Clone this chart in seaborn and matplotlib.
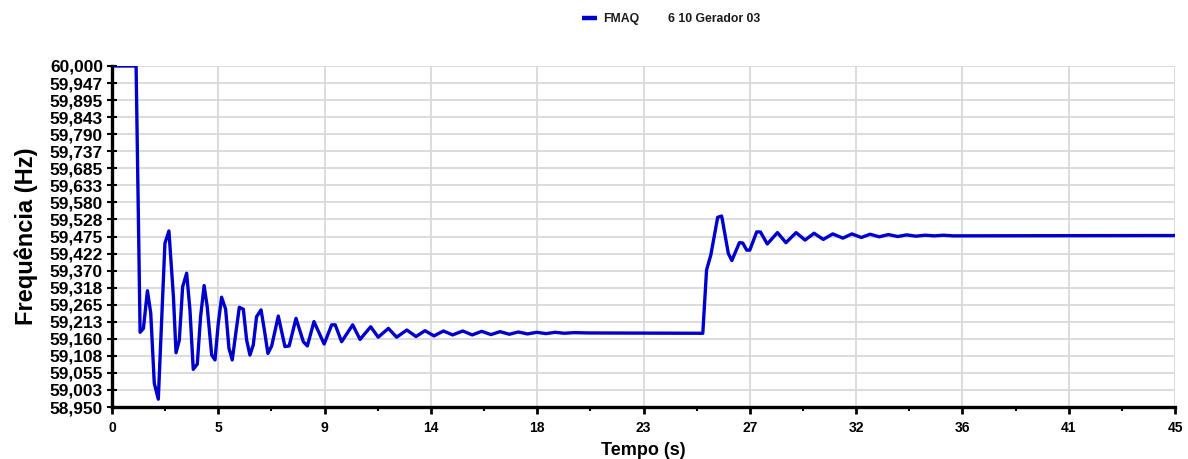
import matplotlib
matplotlib.use("Agg")
import matplotlib.pyplot as plt
import numpy as np
import pandas as pd
import seaborn as sns
from matplotlib.ticker import MultipleLocator

# Frequency response of machine FMAQ (bus 6, unit 10, Gerador 03)
tempo = [
    0.00, 1.02, 1.19, 1.33, 1.50, 1.64, 1.79, 1.96, 2.24, 2.41, 2.60, 2.71,
    2.85, 2.99, 3.16, 3.30, 3.44, 3.61, 3.75, 3.90, 4.03, 4.22, 4.36, 4.50,
    4.64, 4.81, 4.95, 5.09, 5.24, 5.39, 5.56, 5.70, 5.84, 5.98, 6.12, 6.31,
    6.45, 6.60, 6.76, 7.04, 7.32, 7.50, 7.79, 8.10, 8.27, 8.55, 8.98, 9.30,
    9.45, 9.72, 10.19, 10.50, 10.95, 11.27, 11.70, 12.05, 12.48, 12.87,
    13.25, 13.63, 14.03, 14.42, 14.85, 15.25, 15.65, 16.04, 16.43, 16.82,
    17.20, 17.59, 17.98, 18.37, 18.76, 19.15, 19.55, 20.20, 25.01, 25.17,
    25.35, 25.64, 25.81, 26.09, 26.24, 26.56, 26.70, 26.87, 27.00, 27.29,
    27.45, 27.74, 28.17, 28.53, 28.96, 29.34, 29.72, 30.11, 30.51, 30.94,
    31.32, 31.72, 32.09, 32.48, 32.87, 33.26, 33.64, 34.03, 34.42, 34.81,
    35.20, 35.60, 45.00,
]
frequencia = [
    60.000, 60.000, 59.180, 59.192, 59.308, 59.239, 59.023, 58.974, 59.454,
    59.492, 59.290, 59.117, 59.156, 59.320, 59.362, 59.249, 59.066, 59.082,
    59.228, 59.324, 59.259, 59.110, 59.095, 59.208, 59.288, 59.251, 59.131,
    59.095, 59.177, 59.257, 59.251, 59.156, 59.110, 59.141, 59.228, 59.249,
    59.187, 59.115, 59.138, 59.230, 59.136, 59.138, 59.223, 59.151, 59.138,
    59.213, 59.144, 59.203, 59.203, 59.151, 59.203, 59.158, 59.197, 59.165,
    59.192, 59.165, 59.187, 59.167, 59.185, 59.169, 59.184, 59.172, 59.184,
    59.172, 59.183, 59.173, 59.182, 59.174, 59.181, 59.175, 59.180, 59.176,
    59.180, 59.177, 59.179, 59.178, 59.177, 59.372, 59.418, 59.534, 59.538,
    59.423, 59.401, 59.456, 59.455, 59.433, 59.433, 59.489, 59.489, 59.452,
    59.487, 59.456, 59.487, 59.464, 59.485, 59.466, 59.483, 59.470, 59.483,
    59.472, 59.482, 59.474, 59.481, 59.475, 59.480, 59.476, 59.479, 59.477,
    59.479, 59.477, 59.478,
]

x_tick_labels = ["0", "5", "9", "14", "18", "23", "27", "32", "36", "41", "45"]
y_tick_labels = [
    "58,950", "59,003", "59,055", "59,108", "59,160", "59,213", "59,265",
    "59,318", "59,370", "59,422", "59,475", "59,528", "59,580", "59,633",
    "59,685", "59,737", "59,790", "59,843", "59,895", "59,947", "60,000",
]

serie = "FMAQ"
descricao = "6 10 Gerador 03"

df = pd.DataFrame({"Tempo": tempo, "Freq": frequencia, "Serie": serie})

sns.set_style("white")
plt.rcParams["font.family"] = ["Liberation Sans", "DejaVu Sans"]
plt.rcParams["font.weight"] = "bold"
plt.rcParams["text.color"] = "black"
plt.rcParams["axes.labelcolor"] = "black"
plt.rcParams["xtick.color"] = "black"
plt.rcParams["ytick.color"] = "black"

fig = plt.figure(figsize=(11.88, 4.59), dpi=100)
ax = fig.add_axes([112 / 1188, 1 - 407 / 459, 1063 / 1188, 341 / 459])

blue = "#0000cc"
sns.lineplot(data=df, x="Tempo", y="Freq", ax=ax, color=blue, linewidth=2.4,
             label=serie, legend=False, estimator=None, sort=False)

ax.set_xlim(0, 45)
ax.set_ylim(58.95, 60.0)

xt = np.linspace(0, 45, len(x_tick_labels))
ax.set_xticks(xt)
ax.set_xticklabels(x_tick_labels, fontsize=10, fontweight="bold")
ax.xaxis.set_minor_locator(MultipleLocator(2.25))
yt = np.linspace(58.95, 60.0, len(y_tick_labels))
ax.set_yticks(yt)
ax.set_yticklabels(y_tick_labels, fontsize=12.5, fontweight="bold")

ax.grid(True, which="major", color="#d9d9d9", linewidth=1.3)
ax.set_axisbelow(True)

for side in ("top", "right"):
    ax.spines[side].set_visible(False)
for side in ("left", "bottom"):
    ax.spines[side].set_color("black")
    ax.spines[side].set_linewidth(2.4)

ax.tick_params(axis="y", which="major", direction="inout", length=7, width=1.5,
               color="black", labelcolor="black", pad=3, left=True)
ax.tick_params(axis="x", which="major", direction="out", length=5, width=2,
               color="black", labelcolor="black", pad=5, bottom=True)
ax.tick_params(axis="x", which="minor", direction="out", length=3, width=1.5,
               color="black", bottom=True)

ax.set_xlabel("Tempo (s)", fontsize=13, fontweight="bold", labelpad=5, color="black")
ax.set_ylabel("Frequência (Hz)", fontsize=17, fontweight="bold", labelpad=8, color="black")

handle = plt.Line2D([], [], color=blue, linewidth=3.2, solid_capstyle="butt")
leg = fig.legend([handle], [serie], loc="center left",
                 bbox_to_anchor=(582 / 1188, 1 - 19 / 459),
                 frameon=False, prop={"size": 8.8, "weight": "bold"}, handlelength=1.2,
                 handletextpad=0.5, borderpad=0, borderaxespad=0)
for t in leg.get_texts():
    t.set_color("#1a1a1a")
fig.text(668 / 1188, 1 - 19 / 459, descricao, fontsize=8.8, fontweight="bold",
         va="center", ha="left", color="#1a1a1a")

fig.savefig("out.png", dpi=100)
